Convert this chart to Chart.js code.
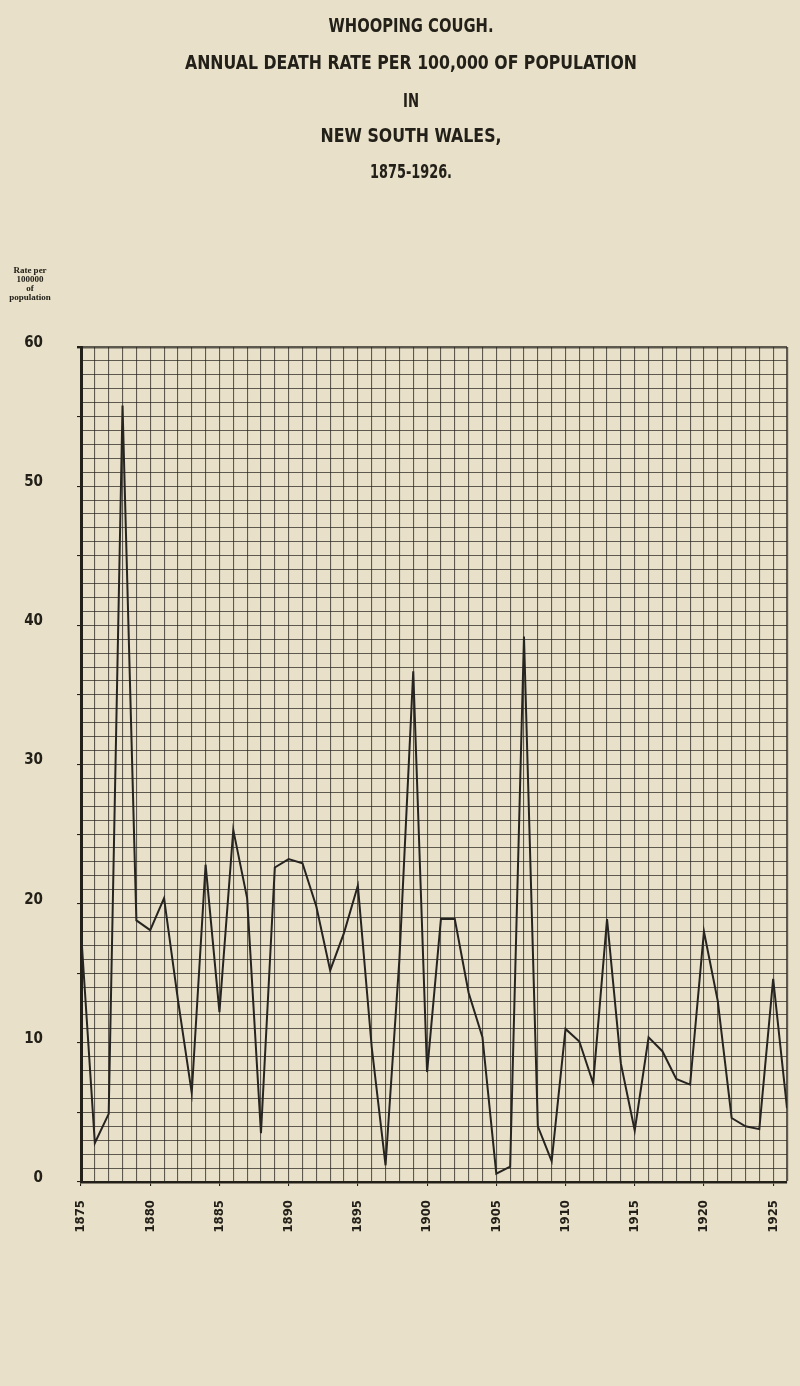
<!DOCTYPE html>
<html>
<head>
<meta charset="utf-8">
<script src="https://cdn.jsdelivr.net/npm/chart.js@4.4.1/dist/chart.umd.min.js"></script>
<style>
  html, body { margin: 0; padding: 0; background: #e8e0c9; }
  #wrap { width: 800px; height: 1386px; position: relative; }
</style>
</head>
<body>
<div id="wrap"><canvas id="coughChart"></canvas></div>
<script>
// Whooping cough: annual death rate per 100,000, New South Wales 1875-1926
var years = [
  1875, 1876, 1877, 1878, 1879, 1880, 1881, 1882, 1883, 1884,
  1885, 1886, 1887, 1888, 1889, 1890, 1891, 1892, 1893, 1894,
  1895, 1896, 1897, 1898, 1899, 1900, 1901, 1902, 1903, 1904,
  1905, 1906, 1907, 1908, 1909, 1910, 1911, 1912, 1913, 1914,
  1915, 1916, 1917, 1918, 1919, 1920, 1921, 1922, 1923, 1924,
  1925, 1926
];
var deathRate = [
  18.0, 2.8, 4.9, 55.8, 18.8, 18.1, 20.4, 13.1, 6.4, 22.8,
  12.2, 25.3, 20.4, 3.5, 22.6, 23.2, 22.9, 19.8, 15.2, 17.9,
  21.3, 9.7, 1.2, 16.0, 36.7, 7.9, 18.9, 18.9, 13.6, 10.4,
  0.6, 1.1, 39.2, 4.0, 1.5, 11.0, 10.1, 7.1, 18.9, 8.5,
  3.7, 10.4, 9.4, 7.4, 7.0, 18.0, 13.0, 4.6, 4.0, 3.8,
  14.6, 5.3
];
var yearLabels = [1875, 1880, 1885, 1890, 1895, 1900, 1905, 1910, 1915, 1920, 1925];
var rateLabels = [0, 10, 20, 30, 40, 50, 60];
var titleLines = [
  "WHOOPING COUGH.",
  "ANNUAL DEATH RATE PER 100,000 OF POPULATION",
  "IN",
  "NEW SOUTH WALES,",
  "1875-1926."
];
var axisNote = ["Rate per", "100000", "of", "population"];

var INK = "#222018";
var GRID = "rgba(40,36,30,0.72)";
var narrow = "'Liberation Sans Narrow', 'DejaVu Sans Condensed', 'Arial Narrow', sans-serif";

// paper background + headings
var paperText = {
  id: "paperText",
  beforeDraw: function (chart) {
    var c = chart.ctx;
    c.save();
    c.fillStyle = "#e8e0c9";
    c.fillRect(0, 0, chart.width, chart.height);
    c.restore();
  },
  afterDraw: function (chart) {
    var c = chart.ctx;
    c.save();
    c.fillStyle = INK;
    c.textAlign = "center";
    c.textBaseline = "middle";
    var ys = [27, 64, 102, 137, 173];
    var widths = [165, 452, 16, 181, 82]; // squeeze to the printed widths
    titleLines.forEach(function (t, i) {
      c.font = "bold 20px " + narrow;
      c.fillText(t, 411, ys[i], widths[i]);
    });
    c.font = "bold 9px 'Liberation Serif', 'DejaVu Serif', serif";
    var ny = [271, 280, 289, 298];
    axisNote.forEach(function (t, i) {
      c.fillText(t, 30, ny[i]);
    });
    c.restore();
  }
};

var ctx = document.getElementById("coughChart");
new Chart(ctx, {
  type: "line",
  data: {
    datasets: [
      {
        label: "Death rate",
        data: years.map(function (y, i) { return { x: y, y: deathRate[i] }; }),
        borderColor: "#262420",
        borderWidth: 2,
        pointRadius: 0,
        tension: 0,
        fill: false
      }
    ]
  },
  options: {
    responsive: true,
    maintainAspectRatio: false,
    animation: false,
    devicePixelRatio: 1,
    layout: { padding: { top: 347, right: 13, left: 0, bottom: 0 } },
    plugins: {
      legend: { display: false },
      tooltip: { enabled: false }
    },
    scales: {
      x: {
        type: "linear",
        min: 1875,
        max: 1926,
        afterFit: function (s) {
          s.height = 204;
          s.paddingLeft = 0;
          s.paddingRight = 0;
        },
        border: { color: INK, width: 2.5 },
        grid: {
          color: GRID,
          lineWidth: function (c) { return c.tick && c.tick.value === 1926 ? 2.2 : 1.1; },
          tickLength: 4,
          tickColor: function (c) {
            return c.tick && yearLabels.indexOf(c.tick.value) >= 0 ? INK : "rgba(0,0,0,0)";
          }
        },
        ticks: {
          stepSize: 1,
          autoSkip: false,
          maxTicksLimit: 200,
          minRotation: 90,
          maxRotation: 90,
          padding: 14,
          color: INK,
          font: { family: narrow, size: 13, weight: "bold" },
          callback: function (v) {
            return yearLabels.indexOf(v) >= 0 ? String(v) : "";
          }
        }
      },
      y: {
        min: 0,
        max: 60,
        afterFit: function (s) {
          s.width = 81;
          s.paddingTop = 0;
          s.paddingBottom = 0;
        },
        border: { color: INK, width: 3 },
        grid: {
          color: GRID,
          lineWidth: function (c) { return c.tick && c.tick.value === 60 ? 2.4 : 1.1; },
          tickLength: 4,
          tickColor: function (c) {
            return c.tick && c.tick.value % 5 === 0 ? INK : "rgba(0,0,0,0)";
          }
        },
        ticks: {
          stepSize: 1,
          autoSkip: false,
          maxTicksLimit: 200,
          padding: 34,
          labelOffset: -4,
          color: INK,
          font: { family: narrow, size: 15, weight: "bold" },
          callback: function (v) {
            return rateLabels.indexOf(v) >= 0 ? String(v) : "";
          }
        }
      }
    }
  },
  plugins: [paperText]
});
</script>
</body>
</html>
